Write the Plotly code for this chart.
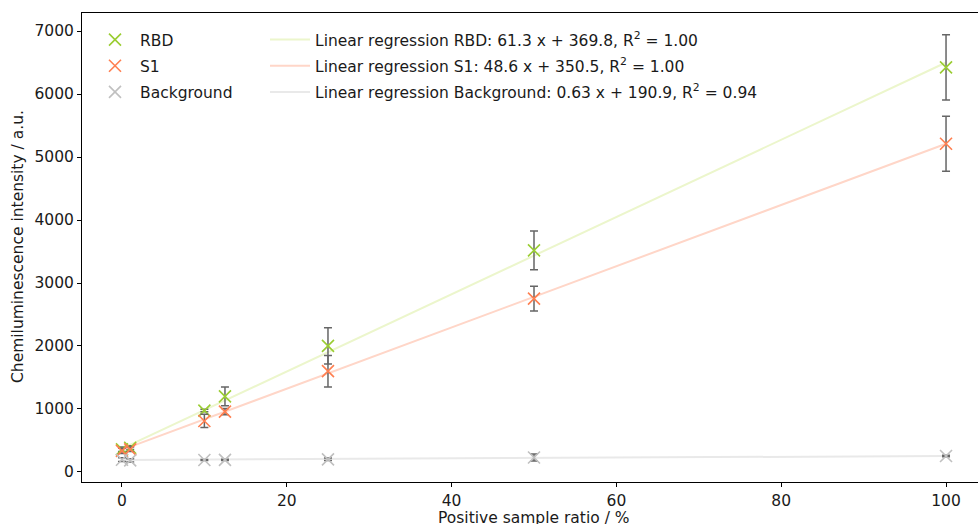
import plotly.graph_objects as go

# ---- data ----
ratio = [0, 1, 10, 12.5, 25, 50, 100]
rbd = [360, 385, 975, 1200, 2002, 3518, 6423]
rbd_err = [35, 30, 20, 150, 287, 309, 517]
s1 = [335, 360, 810, 958, 1601, 2753, 5210]
s1_err = [40, 35, 105, 50, 250, 196, 436]
bg = [195, 185, 190, 192, 201, 230, 254]
bg_err = [30, 25, 8, 10, 20, 55, 12]

series_names = ["RBD", "S1", "Background"]
slopes = [61.3, 48.6, 0.63]
intercepts = [369.8, 350.5, 190.9]
r2 = [1.00, 1.00, 0.94]
slope_fmt = ["{:.1f}", "{:.1f}", "{:.2f}"]

x_ticks = [0, 20, 40, 60, 80, 100]
y_ticks = [0, 1000, 2000, 3000, 4000, 5000, 6000, 7000]

# ---- styles ----
FONT = "DejaVu Sans"
FS = 15.5
marker_colors = ["#9acd32", "#ff7f50", "#c0c0c0"]
line_colors = ["#ecf6cc", "#ffd6c8", "#e9e9e9"]
err_color = "#666666"

fig = go.Figure()

# regression lines (drawn first, under markers)
x_fit = [min(ratio), max(ratio)]
for i, name in enumerate(series_names):
    y_fit = [slopes[i] * xv + intercepts[i] for xv in x_fit]
    label = ("Linear regression " + name + ": " + slope_fmt[i].format(slopes[i])
             + " x + " + "{:.1f}".format(intercepts[i]) + ", R<sup>2</sup> = "
             + "{:.2f}".format(r2[i]))
    fig.add_trace(go.Scatter(
        x=x_fit, y=y_fit, mode="lines", name=label,
        line=dict(color=line_colors[i], width=2),
        legend="legend2", legendgroup="l" + str(i),
    ))

values = [rbd, s1, bg]
errors = [rbd_err, s1_err, bg_err]
for i, name in enumerate(series_names):
    fig.add_trace(go.Scatter(
        x=ratio, y=values[i], mode="markers", name=name,
        marker=dict(symbol="x-thin", size=12, color=marker_colors[i],
                    line=dict(width=1.6, color=marker_colors[i])),
        error_y=dict(type="data", array=errors[i], visible=True,
                     color=err_color, thickness=1.5, width=4),
        legend="legend", legendgroup="m" + str(i),
    ))

W, H = 978, 524
ml, mr, mt, mb = 82, 0, 13, 42
pw = W - ml - mr
ph = H - mt - mb

def px_x(p):
    return (p - ml) / pw

def px_y(p):
    return 1 - (p - mt) / ph

legend_common = dict(
    font=dict(family=FONT, size=FS, color="#1a1a1a"),
    bgcolor="rgba(0,0,0,0)", borderwidth=0,
    xanchor="left", yanchor="top",
    tracegroupgap=3, itemwidth=40,
)

fig.update_layout(
    width=W, height=H,
    margin=dict(l=ml, r=mr, t=mt, b=mb),
    paper_bgcolor="white", plot_bgcolor="white",
    font=dict(family=FONT, size=FS, color="#1a1a1a"),
    showlegend=True,
    legend=dict(x=px_x(90), y=px_y(23), **legend_common),
    legend2=dict(x=px_x(265), y=px_y(23), **legend_common),
    xaxis=dict(
        range=[-4.85, 103.88], tickvals=x_ticks, ticks="outside", ticklen=4,
        tickwidth=1, tickcolor="black", showline=True, linecolor="black",
        linewidth=1, mirror=True, showgrid=False, zeroline=False,
        tickfont=dict(family=FONT, size=FS, color="#1a1a1a"),
    ),
    yaxis=dict(
        range=[-159, 7286], tickvals=y_ticks, ticks="outside", ticklen=4,
        tickwidth=1, tickcolor="black", showline=True, linecolor="black",
        linewidth=1, showgrid=False, zeroline=False,
        tickfont=dict(family=FONT, size=FS, color="#1a1a1a"),
    ),
    annotations=[
        dict(text="Positive sample ratio / %", xref="paper", yref="paper",
             x=px_x(534), y=px_y(518), xanchor="center", yanchor="middle",
             showarrow=False, font=dict(family=FONT, size=FS, color="#1a1a1a")),
        dict(text="Chemiluminescence intensity / a.u.", xref="paper", yref="paper",
             x=px_x(18), y=px_y(247), xanchor="center", yanchor="middle",
             textangle=-90, showarrow=False,
             font=dict(family=FONT, size=FS, color="#1a1a1a")),
    ],
)

fig.write_html("out.html",
               config={"displayModeBar": False},
               post_script="document.body.style.margin='0';document.body.style.overflow='hidden';")
